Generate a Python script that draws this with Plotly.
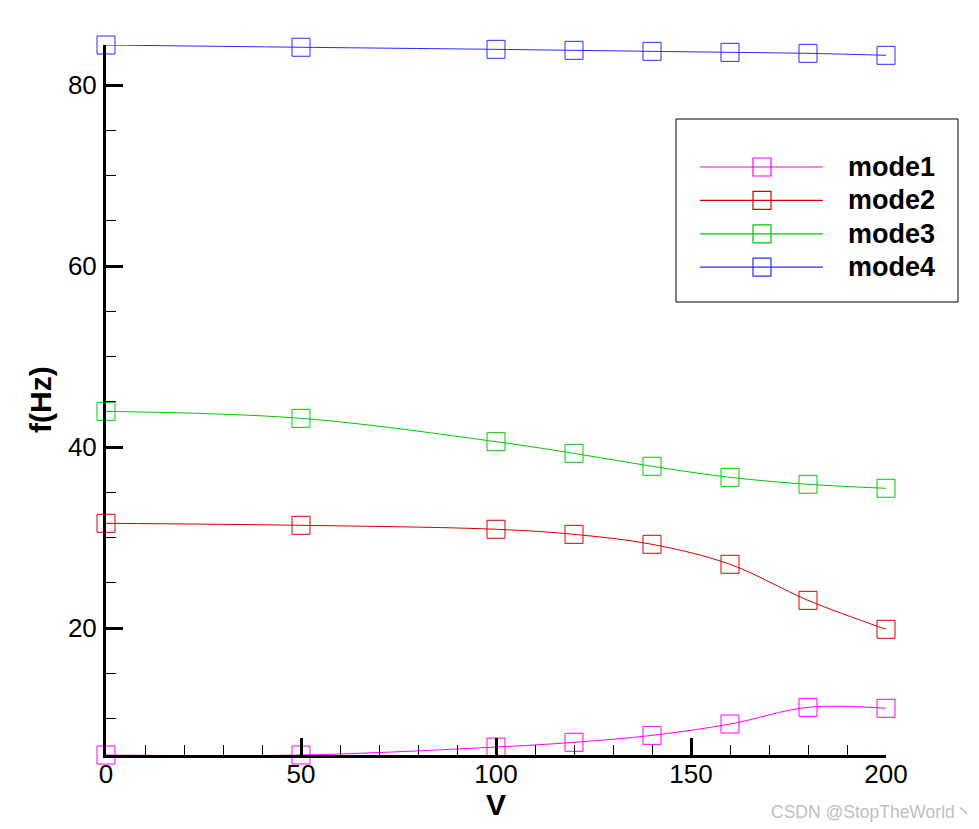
import plotly.graph_objects as go

# datos
V = [0, 50, 100, 120, 140, 160, 180, 200]
mode1 = [5.97, 5.97, 6.85, 7.37, 8.14, 9.39, 11.24, 11.13]
mode2 = [31.57, 31.35, 30.91, 30.35, 29.25, 27.04, 23.06, 19.86]
mode3 = [43.94, 43.17, 40.59, 39.30, 37.87, 36.65, 35.88, 35.44]
mode4 = [84.42, 84.17, 83.94, 83.83, 83.72, 83.61, 83.50, 83.28]
names = ['mode1', 'mode2', 'mode3', 'mode4']
colors = ['#ff00ff', '#d40000', '#00c800', '#2a2aff']
series = [mode1, mode2, mode3, mode4]

# la pagina tiene 8px de margen en el body
OFF = 8
W, H = 979 - OFF, 829 - OFF
L, T = 106 - OFF, 45 - OFF
pw, ph = 780, 710
R, B = W - L - pw, H - T - ph

def px(x):  # pixel de la ventana -> paper
    return (x - OFF - L) / pw

def py(y):
    return (T + ph - (y - OFF)) / ph

fig = go.Figure()
for name, col, ys in zip(names, colors, series):
    fig.add_trace(go.Scatter(
        x=V, y=ys, name=name, mode='lines+markers',
        line=dict(color=col, width=1, shape='spline'),
        marker=dict(symbol='square-open', size=18, color=col, line=dict(width=1, color=col)),
        cliponaxis=False, showlegend=False
    ))

ymin = min(min(s) for s in series)
ymax = max(max(s) for s in series)

font = 'Arial, Liberation Sans, sans-serif'

# leyenda hecha a mano (lineas largas como en el original)
shapes = [dict(type='rect', xref='paper', yref='paper',
               x0=px(676), x1=px(958), y0=py(302), y1=py(119),
               line=dict(color='black', width=1), fillcolor='white', layer='above')]
annotations = []
for i, (name, col) in enumerate(zip(names, colors)):
    yy = 167 + 33.4 * i
    shapes.append(dict(type='line', xref='paper', yref='paper',
                       x0=px(700), x1=px(823), y0=py(yy), y1=py(yy),
                       line=dict(color=col, width=1.2), layer='above'))
    shapes.append(dict(type='rect', xref='paper', yref='paper',
                       x0=px(753), x1=px(771), y0=py(yy + 9), y1=py(yy - 9),
                       line=dict(color=col, width=1.2), layer='above'))
    annotations.append(dict(text='<b>%s</b>' % name, xref='paper', yref='paper',
                            x=px(846), y=py(yy), xanchor='left', yanchor='middle',
                            showarrow=False, font=dict(size=27, color='black', family=font)))

annotations.append(dict(text='<b>V</b>', xref='paper', yref='paper', x=px(496), y=py(805),
                        xanchor='center', yanchor='middle',
                        showarrow=False, font=dict(size=30, color='black', family=font)))
annotations.append(dict(text='<b>f(Hz)</b>', xref='paper', yref='paper', x=px(40), y=py(400),
                        xanchor='center', yanchor='middle',
                        textangle=-90, showarrow=False, font=dict(size=30, color='black', family=font)))
annotations.append(dict(text='CSDN @StopTheWorld丶', xref='paper', yref='paper', x=px(974), y=py(812),
                        xanchor='right', yanchor='middle', showarrow=False,
                        font=dict(size=17.5, color='#c0c0c0', family='Arial, Noto Sans CJK SC')))

fig.update_layout(
    width=W, height=H,
    margin=dict(l=L, r=R, t=T, b=B),
    plot_bgcolor='white', paper_bgcolor='white',
    font=dict(family=font, size=26, color='black'),
    shapes=shapes, annotations=annotations,
    xaxis=dict(range=[0, 200], showgrid=False, zeroline=False,
               showline=True, linecolor='black', linewidth=3,
               ticks='inside', tick0=0, dtick=50, ticklen=17, tickwidth=3, tickcolor='black',
               minor=dict(ticks='inside', dtick=10, ticklen=10, tickwidth=1, tickcolor='black'),
               ticklabelstandoff=-6),
    yaxis=dict(range=[ymin, ymax], showgrid=False, zeroline=False,
               showline=True, linecolor='black', linewidth=3,
               ticks='inside', tick0=0, dtick=20, ticklen=17, tickwidth=3, tickcolor='black',
               minor=dict(ticks='inside', dtick=5, ticklen=10, tickwidth=1, tickcolor='black'),
               ticklabelstandoff=1),
)

fig.write_html('out.html')
